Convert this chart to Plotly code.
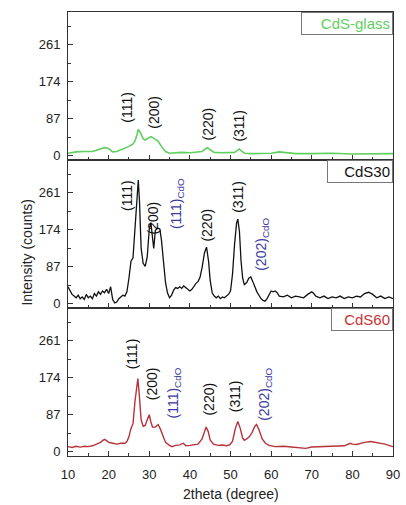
import plotly.graph_objects as go
from plotly.subplots import make_subplots

# ---------------- data ----------------
glass_x = [10, 12, 14, 16, 17, 18, 19, 20, 21, 22, 23, 24, 25, 26, 26.5, 27, 27.3, 27.8, 28.5, 29,
           29.7, 30.4, 31, 31.6, 32.2, 33, 34, 35, 36, 38, 40, 42, 43, 43.8, 44.4, 45, 46, 48, 50, 51,
           51.6, 52.2, 52.8, 53.5, 55, 58, 60, 62, 64, 66, 70, 75, 80, 85, 90]
glass_y = [6, 9, 10, 10, 13, 16, 19, 17, 9, 10, 14, 18, 22, 28, 35, 50, 62, 55, 40, 37,
           42, 45, 42, 38, 34, 22, 10, 6, 7, 8, 7, 8, 10, 16, 19, 14, 8, 7, 7, 8,
           12, 16, 10, 6, 5, 5, 6, 9, 7, 5, 5, 6, 4, 5, 5]

cds30_x = [10, 10.5, 11, 11.5, 12, 12.5, 13, 13.5, 14, 14.5, 15, 15.5, 16, 16.5, 17, 17.5, 18, 18.5,
           19, 19.5, 20, 20.5, 21, 21.5, 22, 22.5, 23, 23.5, 24, 24.5, 25, 25.5, 26, 26.5, 27, 27.3,
           27.6, 28, 28.5, 29, 29.5, 30, 30.4, 30.8, 31.1, 31.5, 32, 32.6, 33, 33.5, 34, 34.5, 35,
           35.5, 36, 36.5, 37, 37.5, 38, 38.5, 39, 39.5, 40, 40.5, 41, 41.5, 42, 42.5, 43, 43.6,
           44.1, 44.6, 45, 45.5, 46, 46.5, 47, 47.5, 48, 48.5, 49, 49.5, 50, 50.5, 51, 51.5, 51.8,
           52.2, 52.6, 53, 53.4, 54, 54.5, 55, 55.5, 56, 56.5, 57, 57.5, 58, 58.5, 59, 59.5, 60,
           60.5, 61, 61.5, 62, 63, 64, 65, 66, 67, 68, 69, 70, 70.5, 71, 72, 73, 74, 75, 76, 77,
           78, 79, 80, 81, 82, 83, 84, 85, 86, 87, 88, 89, 90]
cds30_y = [40, 32, 22, 18, 14, 20, 12, 16, 10, 22, 14, 18, 12, 24, 18, 28, 22, 30,
           26, 34, 24, 40, 10, 2, 4, 12, 16, 20, 18, 28, 60, 100, 108, 180, 265, 291,
           240, 130, 95, 88, 110, 175, 191, 150, 130, 172, 178, 176, 150, 100, 50, 25, 14,
           20, 32, 38, 36, 40, 36, 42, 38, 36, 30, 34, 42, 48, 52, 62, 85, 120,
           133, 100, 55, 25, 18, 14, 18, 12, 16, 14, 18, 22, 30, 70, 140, 190, 199,
           170, 100, 60, 45, 50, 60, 63, 52, 38, 28, 20, 12, 8, 6, 12, 20, 30,
           28, 30, 26, 18, 16, 20, 14, 18, 16, 14, 22, 28, 24, 18, 14, 18, 12, 16, 14, 18,
           12, 16, 14, 18, 16, 24, 27, 22, 14, 18, 12, 16, 12]

cds60_x = [10, 11, 12, 13, 14, 15, 16, 17, 18, 18.5, 19, 19.5, 20, 21, 22, 23, 24, 24.5, 25, 25.5,
           26, 26.5, 27, 27.2, 27.5, 28, 28.5, 29, 29.5, 30, 30.4, 30.8, 31.5, 32.2, 32.8, 33.5,
           34, 35, 35.6, 36.5, 37.5, 38.4, 39, 40, 41, 42, 43, 43.6, 44, 44.5, 45, 45.8, 47, 48,
           49, 49.8, 50.5, 51.2, 51.8, 52.4, 53, 53.4, 54, 54.6, 55.3, 56, 56.4, 57, 57.8, 58.6,
           59.5, 61, 63, 65, 67, 68.5, 70, 72, 74, 76, 78, 79.5, 80, 81, 82, 83, 84.5, 86, 88, 90]
cds60_y = [12, 10, 13, 11, 13, 12, 14, 18, 22, 26, 29, 26, 22, 20, 18, 20, 20, 24, 35, 55,
           66, 120, 165, 172, 140, 75, 60, 62, 75, 87, 70, 58, 58, 64, 52, 35,
           22, 15, 12, 15, 16, 20, 14, 15, 16, 18, 30, 50, 58, 48, 28, 18, 15, 16,
           14, 16, 25, 55, 71, 55, 32, 27, 30, 35, 45, 60, 64, 52, 30, 20,
           15, 12, 13, 11, 10, 8, 11, 12, 12, 13, 14, 20, 18, 17, 20, 22, 24, 22, 18, 12]

panel_names = ["CdS-glass", "CdS30", "CdS60"]
y_ticks = [0, 87, 174, 261]

# peak labels: (text, x, y, is_cdo)
labels_glass = [("(111)", 24.5, 115, False), ("(200)", 31.1, 103, False),
                ("(220)", 44.5, 74, False), ("(311)", 52.0, 70, False)]
labels_30 = [("(111)", 24.7, 255, False), ("(200)", 31.0, 201, False),
             ("(111)<sub>CdO</sub>", 37.0, 236, True), ("(220)", 44.2, 186, False),
             ("(311)", 51.8, 251, False), ("(202)<sub>CdO</sub>", 57.9, 140, True)]
labels_60 = [("(111)", 25.7, 231, False), ("(200)", 30.7, 159, False),
             ("(111)<sub>CdO</sub>", 36.2, 138, True), ("(220)", 44.6, 124, False),
             ("(311)", 51.3, 130, False), ("(202)<sub>CdO</sub>", 58.5, 134, True)]

# ---------------- styles ----------------
FONT = "Liberation Sans, Arial, sans-serif"
GREEN = "#5fcf5f"
BLACK = "#111111"
RED = "#b8323a"
BLUE = "#3c3ca0"
AX = "#333333"

fig = make_subplots(rows=3, cols=1, shared_xaxes=True, vertical_spacing=0)

fig.add_trace(go.Scatter(x=glass_x, y=glass_y, mode="lines",
                         line=dict(color=GREEN, width=1.6), showlegend=False), row=1, col=1)
fig.add_trace(go.Scatter(x=cds30_x, y=cds30_y, mode="lines",
                         line=dict(color=BLACK, width=1.3), showlegend=False), row=2, col=1)
fig.add_trace(go.Scatter(x=cds60_x, y=cds60_y, mode="lines",
                         line=dict(color=RED, width=1.4), showlegend=False), row=3, col=1)

for r in (1, 2, 3):
    fig.update_xaxes(range=[10, 90], tickmode="linear", tick0=10, dtick=10,
                     ticks="inside", ticklen=5, tickcolor=AX, tickwidth=1,
                     minor=dict(dtick=5, tick0=10, ticks="inside", ticklen=3, tickcolor=AX),
                     showline=True, linecolor=AX, linewidth=1, mirror=True,
                     showgrid=False, zeroline=False,
                     tickfont=dict(family=FONT, size=13, color="#222"),
                     ticklabelstandoff=6, ticklabeloverflow="allow",
                     row=r, col=1)
    fig.update_yaxes(range=[-10, 338], tickmode="array", tickvals=y_ticks,
                     ticks="inside", ticklen=5, tickcolor=AX, tickwidth=1,
                     minor=dict(tickmode="linear", tick0=0, dtick=43.5, ticks="inside",
                                ticklen=3, tickcolor=AX),
                     showline=True, linecolor=AX, linewidth=1, mirror=True,
                     showgrid=False, zeroline=False,
                     tickfont=dict(family=FONT, size=13, color="#222"),
                     ticklabelstandoff=4,
                     row=r, col=1)

annotations = []
refs = [("x", "y"), ("x2", "y2"), ("x3", "y3")]
for (xr, yr), labs in zip(refs, [labels_glass, labels_30, labels_60]):
    for text, lx, ly, cdo in labs:
        annotations.append(dict(x=lx, y=ly, xref=xr, yref=yr, text=text, showarrow=False,
                                textangle=-90, xanchor="center", yanchor="middle",
                                font=dict(family=FONT, size=14, color=BLUE if cdo else "#111")))

box_widths = [86, 60, 56]
box_colors = [GREEN, "#111", "#cc3333"]
for (xr, yr), name, w, c in zip(refs, panel_names, box_widths, box_colors):
    annotations.append(dict(x=1, y=1, xref=xr + " domain", yref=yr + " domain", text=name,
                            showarrow=False, xanchor="right", yanchor="top", align="right",
                            width=w, bgcolor="white", bordercolor="#777", borderwidth=1,
                            borderpad=2, font=dict(family=FONT, size=15, color=c)))

annotations.append(dict(x=-0.125, y=0.459, xref="paper", yref="paper",
                        text="Intensity (counts)", showarrow=False, textangle=-90,
                        xanchor="center", yanchor="middle",
                        font=dict(family=FONT, size=14, color="#222")))
annotations.append(dict(x=0.5, y=-0.086, xref="paper", yref="paper",
                        text="2theta (degree)", showarrow=False,
                        xanchor="center", yanchor="middle",
                        font=dict(family=FONT, size=14, color="#222")))

fig.update_layout(width=406, height=505, margin=dict(l=68, r=6, t=12, b=49),
                  paper_bgcolor="white", plot_bgcolor="white",
                  annotations=annotations, showlegend=False,
                  font=dict(family=FONT, size=13, color="#222"))

fig.write_html("out.html")
